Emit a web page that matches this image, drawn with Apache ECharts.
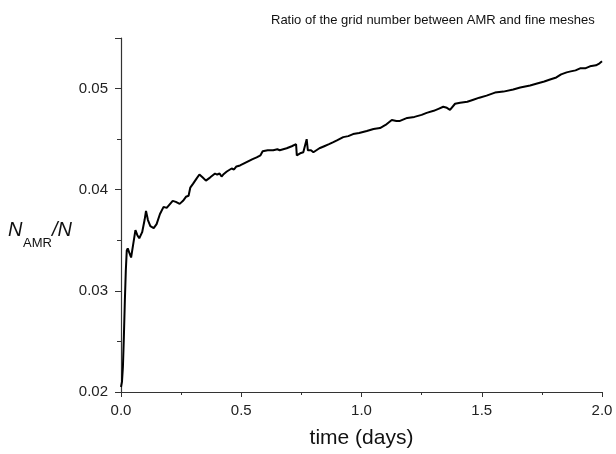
<!DOCTYPE html>
<html>
<head>
<meta charset="utf-8">
<script src="https://cdn.jsdelivr.net/npm/echarts@6/dist/echarts.min.js"></script>
<style>html,body{margin:0;padding:0;background:#fff}#c{width:616px;height:454px}</style>
</head>
<body>
<div id="c"></div>
<script>
var titleText = 'Ratio of the grid number between AMR and fine meshes';
var xAxisName = 'time (days)';
var yNameMain = 'N';
var yNameSub = 'AMR';
var yNameTail = '/N';
var timeDays = [0.000,0.004,0.008,0.012,0.016,0.020,0.024,0.028,0.034,0.042,0.050,0.060,0.068,0.076,0.088,0.098,0.104,0.112,0.122,0.136,0.148,0.162,0.177,0.190,0.198,0.215,0.228,0.244,0.258,0.270,0.281,0.288,0.300,0.314,0.326,0.340,0.353,0.370,0.391,0.400,0.410,0.418,0.425,0.440,0.460,0.470,0.480,0.495,0.520,0.545,0.564,0.580,0.589,0.610,0.633,0.650,0.660,0.689,0.710,0.728,0.731,0.745,0.758,0.765,0.772,0.777,0.790,0.800,0.807,0.825,0.845,0.865,0.883,0.900,0.924,0.945,0.965,0.990,1.022,1.050,1.077,1.100,1.126,1.145,1.160,1.190,1.220,1.250,1.271,1.300,1.320,1.340,1.355,1.368,1.389,1.410,1.440,1.465,1.490,1.520,1.555,1.590,1.631,1.660,1.701,1.730,1.760,1.784,1.810,1.830,1.853,1.870,1.890,1.909,1.930,1.950,1.975,1.990,2.000];
var ratio = [0.0205,0.0210,0.0225,0.0255,0.0290,0.0320,0.0340,0.0342,0.0338,0.0333,0.0345,0.0360,0.0355,0.0352,0.0358,0.0370,0.0379,0.0370,0.0364,0.0362,0.0366,0.0376,0.0383,0.0382,0.0382,0.0389,0.0388,0.0386,0.0389,0.0393,0.0394,0.0402,0.0406,0.0411,0.0415,0.0412,0.0409,0.0412,0.0416,0.0415,0.0416,0.0413,0.0415,0.0418,0.0421,0.0420,0.0423,0.0424,0.0427,0.0430,0.0432,0.0434,0.0438,0.0439,0.0439,0.0440,0.0439,0.0441,0.0443,0.0445,0.0434,0.0436,0.0437,0.0438,0.0450,0.0439,0.0439,0.0437,0.0436,0.0441,0.0443,0.0445,0.0447,0.0449,0.0452,0.0453,0.0455,0.0456,0.0458,0.0460,0.0461,0.0464,0.0469,0.0468,0.0468,0.0471,0.0472,0.0474,0.0476,0.0478,0.0480,0.0482,0.0481,0.0479,0.0485,0.0486,0.0487,0.0489,0.0491,0.0493,0.0496,0.0497,0.0499,0.0501,0.0503,0.0505,0.0507,0.0509,0.0511,0.0514,0.0516,0.0517,0.0518,0.0520,0.0520,0.0522,0.0523,0.0525,0.0527];

var pts = timeDays.map(function(t, i){ return [t, ratio[i]]; });
var font = '"Liberation Sans", Arial, sans-serif';
var axisCol = '#333';
var nStyle = {fontFamily: font, fontSize: 20, fontStyle: 'italic', fontWeight: 'normal', color: '#111'};
var chart = echarts.init(document.getElementById('c'), null, {renderer: 'canvas'});
chart.setOption({
  animation: false,
  backgroundColor: '#fff',
  title: [
    {text: titleText, left: 266, top: 9, textStyle: {fontFamily: font, fontSize: 13, fontWeight: 'normal', color: '#111'}},
    {text: yNameMain, left: 8, top: 220, padding: 0, textStyle: nStyle},
    {text: yNameSub, left: 23, top: 237, padding: 0, textStyle: {fontFamily: font, fontSize: 13, fontWeight: 'normal', color: '#111'}},
    {text: yNameTail, left: 52, top: 220, padding: 0, textStyle: nStyle}
  ],
  grid: {left: 121, right: 14, top: 38, bottom: 60},
  xAxis: {
    type: 'value', min: 0, max: 2, interval: 0.5,
    name: xAxisName, nameLocation: 'middle', nameGap: 36,
    nameTextStyle: {fontFamily: font, fontSize: 21, color: '#111'},
    axisLine: {lineStyle: {color: axisCol, width: 1.2}},
    axisTick: {length: 5, lineStyle: {color: axisCol}},
    minorTick: {show: true, splitNumber: 2, length: 3, lineStyle: {color: axisCol}},
    splitLine: {show: false},
    axisLabel: {fontFamily: font, fontSize: 15, color: '#222', margin: 11, formatter: function(v){ return v.toFixed(1); }}
  },
  yAxis: {
    type: 'value', min: 0.02, max: 0.055, interval: 0.01,
    axisLine: {show: true, lineStyle: {color: axisCol, width: 1.2}},
    axisTick: {show: true, length: 6, lineStyle: {color: axisCol}},
    minorTick: {show: true, splitNumber: 2, length: 4, lineStyle: {color: axisCol}},
    splitLine: {show: false},
    axisLabel: {fontFamily: font, fontSize: 15, color: '#222', margin: 13, showMaxLabel: false,
      formatter: function(v){ return Math.abs(v - 0.055) < 1e-9 ? '' : v.toFixed(2); }}
  },
  series: [{
    type: 'line', data: pts, showSymbol: false, smooth: false,
    lineStyle: {color: '#000', width: 2}
  }]
});
</script>
</body>
</html>
